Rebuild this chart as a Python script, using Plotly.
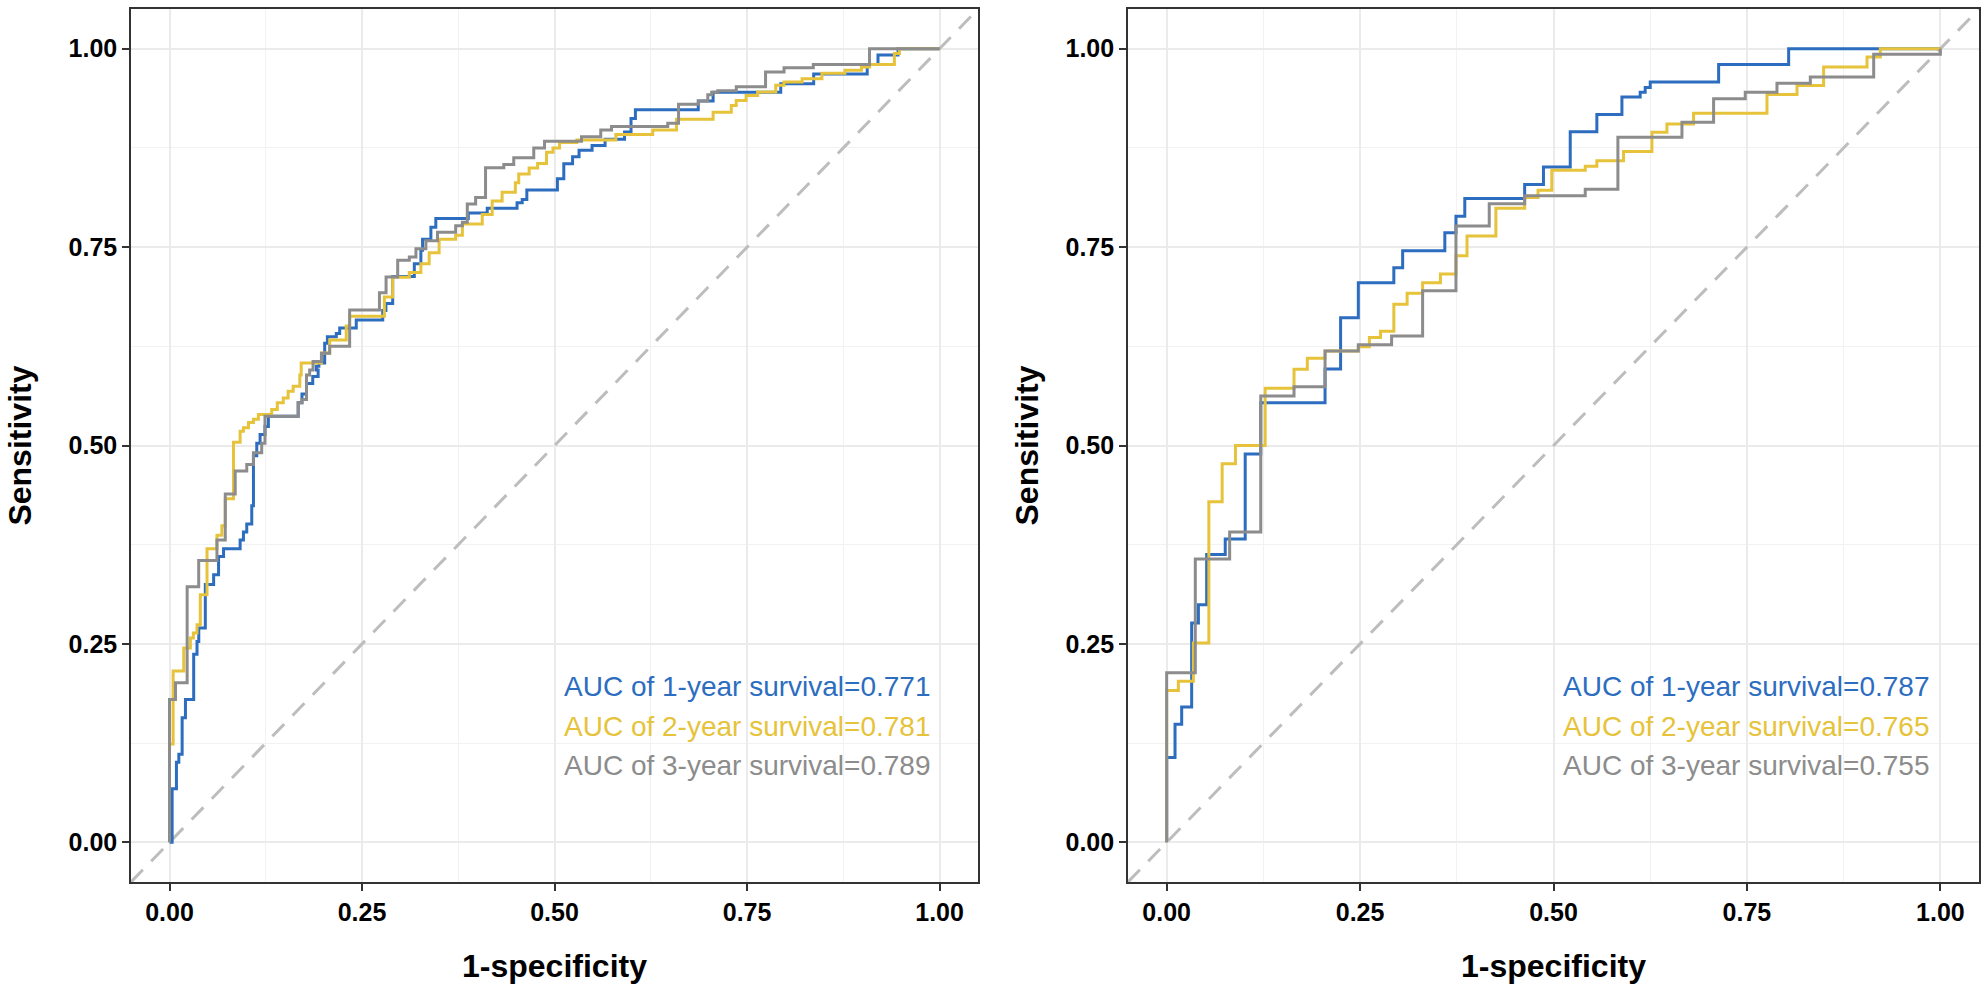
import plotly.graph_objects as go

# ROC step curves (fpr, tpr), left = training set, right = validation set
left_1y_fpr = [0, 0.0034, 0.009, 0.0121, 0.0164, 0.0207, 0.0314, 0.0357, 0.038, 0.0465, 0.0573, 0.0637,
               0.0702, 0.0917, 0.096, 0.1003, 0.1068, 0.109, 0.1133, 0.1176, 0.124, 0.1284, 0.1671, 0.172,
               0.1779, 0.186, 0.193, 0.1907, 0.194, 0.2015, 0.205, 0.2166, 0.221, 0.2425, 0.2769, 0.281,
               0.2898, 0.3179, 0.3264, 0.3286, 0.3394, 0.3458, 0.388, 0.4126, 0.4513, 0.458, 0.464, 0.5037,
               0.512, 0.5234, 0.5318, 0.5487, 0.5656, 0.5909, 0.5993, 0.605, 0.6866, 0.7059, 0.7937, 0.8365,
               0.906, 0.92, 0.946, 1.0]
left_1y_tpr = [0, 0.0676, 0.101, 0.111, 0.157, 0.180, 0.237, 0.253, 0.270, 0.325, 0.337, 0.360,
               0.370, 0.381, 0.391, 0.401, 0.424, 0.487, 0.503, 0.514, 0.524, 0.537, 0.554, 0.565,
               0.578, 0.587, 0.595, 0.600, 0.604, 0.629, 0.637, 0.641, 0.648, 0.658, 0.670, 0.679,
               0.713, 0.729, 0.746, 0.760, 0.775, 0.786, 0.793, 0.799, 0.806, 0.810, 0.822, 0.836,
               0.855, 0.864, 0.872, 0.878, 0.886, 0.895, 0.912, 0.923, 0.934, 0.945, 0.956, 0.968,
               0.980, 0.992, 1.0, 1.0]

left_2y_fpr = [0, 0, 0.0047, 0.0185, 0.0271, 0.031, 0.0357, 0.040, 0.0487, 0.0616, 0.068, 0.0724,
               0.0831, 0.0917, 0.096, 0.1025, 0.109, 0.1154, 0.1327, 0.140, 0.1477, 0.154, 0.1606, 0.1692,
               0.171, 0.1973, 0.208, 0.2295, 0.2339, 0.279, 0.2898, 0.3114, 0.3264, 0.3372, 0.3501, 0.3716,
               0.3803, 0.4061, 0.419, 0.4319, 0.4491, 0.4535, 0.467, 0.478, 0.4896, 0.498, 0.5065, 0.529,
               0.5796, 0.6275, 0.6584, 0.7059, 0.7295, 0.7359, 0.7487, 0.7637, 0.7872, 0.7979, 0.8215,
               0.8472, 0.8771, 0.8985, 0.9092, 0.9413, 0.9478, 1.0]
left_2y_tpr = [0, 0.124, 0.216, 0.245, 0.2575, 0.2637, 0.274, 0.312, 0.370, 0.387, 0.399, 0.433,
               0.504, 0.518, 0.5225, 0.529, 0.533, 0.539, 0.5455, 0.554, 0.560, 0.5685, 0.5747, 0.589,
               0.604, 0.6165, 0.633, 0.6505, 0.663, 0.687, 0.712, 0.718, 0.729, 0.743, 0.760, 0.765,
               0.779, 0.791, 0.808, 0.819, 0.831, 0.842, 0.8497, 0.8553, 0.8694, 0.875, 0.8818, 0.885,
               0.892, 0.8975, 0.911, 0.920, 0.9285, 0.9348, 0.9411, 0.9453, 0.954, 0.958, 0.962,
               0.969, 0.973, 0.977, 0.980, 0.994, 1.0, 1.0]

left_3y_fpr = [0, 0, 0.0078, 0.0229, 0.0379, 0.0616, 0.0724, 0.0853, 0.1003, 0.109, 0.1197, 0.124,
               0.1671, 0.172, 0.1779, 0.182, 0.1864, 0.1973, 0.208, 0.2339, 0.2726, 0.2812, 0.2963, 0.3114,
               0.32, 0.3329, 0.348, 0.3716, 0.3803, 0.3867, 0.3975, 0.4104, 0.4341, 0.447, 0.473, 0.487,
               0.535, 0.560, 0.574, 0.647, 0.661, 0.687, 0.699, 0.704, 0.712, 0.736, 0.774, 0.798, 0.836,
               0.909, 1.0]
left_3y_tpr = [0, 0.180, 0.201, 0.322, 0.355, 0.381, 0.439, 0.468, 0.476, 0.491, 0.503, 0.537,
               0.554, 0.558, 0.589, 0.595, 0.606, 0.6164, 0.625, 0.6707, 0.6924, 0.7124, 0.7333, 0.7374,
               0.7479, 0.758, 0.7687, 0.777, 0.7812, 0.8042, 0.8125, 0.850, 0.8542, 0.8625, 0.875, 0.8834,
               0.889, 0.8975, 0.902, 0.906, 0.930, 0.934, 0.942, 0.945, 0.947, 0.952, 0.9705, 0.976, 0.980,
               1.0, 1.0]

right_1y_fpr = [0, 0, 0.0108, 0.0194, 0.0323, 0.041, 0.0517, 0.0757, 0.1015, 0.1216, 0.2047, 0.2248,
                0.2477, 0.2936, 0.305, 0.3595, 0.3739, 0.3853, 0.4627, 0.487, 0.5216, 0.556, 0.5884, 0.612,
                0.6185, 0.625, 0.7134, 0.8039, 1.0]
right_1y_tpr = [0, 0.107, 0.1487, 0.1704, 0.2764, 0.2994, 0.3626, 0.3823, 0.4893, 0.554, 0.5963, 0.661,
                0.705, 0.7241, 0.7455, 0.768, 0.789, 0.8114, 0.829, 0.851, 0.8955, 0.917, 0.939, 0.945,
                0.951, 0.958, 0.980, 1.0, 1.0]

right_2y_fpr = [0, 0, 0.0151, 0.0345, 0.0545, 0.0717, 0.0889, 0.1273, 0.1646, 0.1818, 0.2047, 0.2477,
                0.262, 0.2764, 0.2936, 0.3108, 0.3308, 0.3538, 0.3739, 0.3882, 0.4255, 0.4627, 0.48, 0.4978,
                0.541, 0.556, 0.5905, 0.6272, 0.6466, 0.681, 0.7759, 0.8147, 0.8491, 0.9052, 0.9224, 1.0]
right_2y_tpr = [0, 0.1914, 0.203, 0.251, 0.429, 0.477, 0.5, 0.572, 0.596, 0.61, 0.619, 0.6245,
                0.636, 0.644, 0.678, 0.692, 0.705, 0.716, 0.739, 0.764, 0.799, 0.8125, 0.8217, 0.847,
                0.852, 0.8588, 0.8706, 0.8947, 0.905, 0.9187, 0.9423, 0.9536, 0.9768, 0.9895, 1.0, 1.0]

right_3y_fpr = [0, 0, 0.037, 0.0814, 0.1216, 0.1646, 0.2047, 0.2477, 0.2907, 0.3308, 0.3739, 0.4169,
                0.4627, 0.541, 0.5832, 0.666, 0.7069, 0.7478, 0.7888, 0.8319, 0.9138, 1.0]
right_3y_tpr = [0, 0.2136, 0.357, 0.391, 0.5625, 0.574, 0.619, 0.627, 0.638, 0.695, 0.7765, 0.8046,
                0.8146, 0.823, 0.8883, 0.9073, 0.9368, 0.945, 0.9566, 0.9642, 0.993, 1.0]

series_names = ["1-year", "2-year", "3-year"]
left_auc = [0.771, 0.781, 0.789]
right_auc = [0.787, 0.765, 0.755]
label_y = [0.2, 0.15, 0.1]
label_x = 0.75

colors = ["#2C6DBF", "#E6C33A", "#8C8C8C"]
AXIS_RANGE = [-0.05, 1.05]
FONT = "Liberation Sans, Arial, sans-serif"

fig = go.Figure()

panels = [
    ("x", "y", [(left_1y_fpr, left_1y_tpr), (left_2y_fpr, left_2y_tpr), (left_3y_fpr, left_3y_tpr)], left_auc),
    ("x2", "y2", [(right_1y_fpr, right_1y_tpr), (right_2y_fpr, right_2y_tpr), (right_3y_fpr, right_3y_tpr)], right_auc),
]

for xa, ya, curves, aucs in panels:
    # reference diagonal
    fig.add_trace(go.Scatter(x=AXIS_RANGE, y=AXIS_RANGE, xaxis=xa, yaxis=ya, mode="lines",
                             line=dict(color="#BDBDBD", width=3, dash="17px,12px"),
                             showlegend=False, hoverinfo="skip"))
    for (fpr, tpr), name, col in zip(curves, series_names, colors):
        fig.add_trace(go.Scatter(x=fpr, y=tpr, xaxis=xa, yaxis=ya, mode="lines",
                                 line=dict(color=col, width=3, shape="hv"),
                                 name=name, showlegend=False))
    # AUC labels
    for name, auc, yy, col in zip(series_names, aucs, label_y, colors):
        fig.add_annotation(x=label_x, y=yy, xref=xa, yref=ya, showarrow=False,
                           text=f"AUC of {name} survival={auc:.3f}",
                           font=dict(family=FONT, size=28, color=col),
                           xanchor="center", yanchor="middle", yshift=-3)

axis_style = dict(
    range=AXIS_RANGE, tick0=0, dtick=0.25, tickformat=".2f",
    showgrid=True, gridcolor="#EBEBEB", gridwidth=1.6, zeroline=False,
    minor=dict(dtick=0.125, showgrid=True, gridcolor="#F2F2F2", gridwidth=0.9),
    ticks="outside", ticklen=7, tickwidth=1.5, tickcolor="#333333",
    showline=True, linecolor="#333333", linewidth=1.6, mirror=True,
    tickfont=dict(family=FONT, size=25, color="black", weight="bold"),
)

fig.update_layout(
    width=1988, height=992,
    margin=dict(l=0, r=0, t=0, b=0),
    plot_bgcolor="white", paper_bgcolor="white",
    xaxis=dict(domain=[0.0659, 0.4920], anchor="y", **axis_style),
    yaxis=dict(domain=[0.1109, 0.9909], anchor="x", **axis_style),
    xaxis2=dict(domain=[0.5674, 0.9955], anchor="y2", **axis_style),
    yaxis2=dict(domain=[0.1109, 0.9909], anchor="x2", **axis_style),
)

# axis titles
title_font = dict(family=FONT, size=32, color="black", weight="bold")
for cx, sx in [(0.2790, 0.0096), (0.7815, 0.5166)]:
    fig.add_annotation(x=cx, y=0.0262, xref="paper", yref="paper", text="1-specificity",
                       showarrow=False, font=title_font, xanchor="center", yanchor="middle")
    fig.add_annotation(x=sx, y=0.5509, xref="paper", yref="paper", text="Sensitivity",
                       showarrow=False, font=title_font, textangle=-90,
                       xanchor="center", yanchor="middle")

# drop the default page margin so the figure sits at the window's corner
fig.write_html("out.html", config={"displayModeBar": False},
               post_script="document.body.style.margin='0';")
